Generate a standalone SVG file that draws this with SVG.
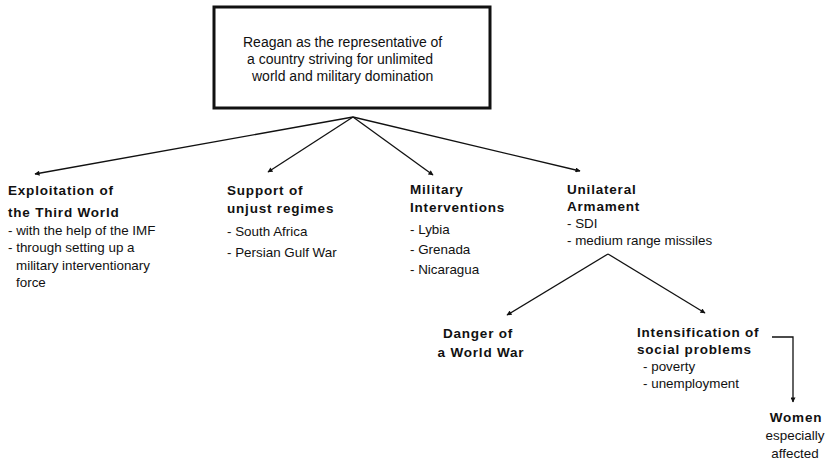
<svg xmlns="http://www.w3.org/2000/svg" width="827" height="466" viewBox="0 0 827 466">
<style>
text{font-family:"Liberation Sans",Arial,Helvetica,sans-serif;fill:#111}
.b{font-weight:bold;font-size:13.5px;letter-spacing:0.8px}
.r{font-size:13.4px}
.t{font-size:14px}
.c{text-anchor:middle}
.ln{stroke:#111;stroke-width:1.3;fill:none}
</style>
<defs>
<marker id="ah" viewBox="0 0 10 10" refX="9" refY="5" markerWidth="6" markerHeight="5" orient="auto" markerUnits="userSpaceOnUse">
<path d="M0,0 L10,5 L0,10 z" fill="#111"/>
</marker>
</defs>
<rect width="827" height="466" fill="#fff"/>
<g id="root">
<rect x="214" y="7" width="276" height="101" fill="#fff" stroke="#111" stroke-width="3"/>
<text class="t" x="243" y="47">Reagan as the representative of</text>
<text class="t" x="247" y="64">a country striving for unlimited</text>
<text class="t" x="252" y="81">world and military domination</text>
</g>
<g id="connectors">
<line class="ln" x1="353" y1="117" x2="35" y2="174" marker-end="url(#ah)"/>
<line class="ln" x1="353" y1="117" x2="268" y2="172" marker-end="url(#ah)"/>
<line class="ln" x1="353" y1="117" x2="433" y2="175" marker-end="url(#ah)"/>
<line class="ln" x1="353" y1="117" x2="580" y2="171" marker-end="url(#ah)"/>
<line class="ln" x1="608" y1="254" x2="507" y2="315" marker-end="url(#ah)"/>
<line class="ln" x1="608" y1="254" x2="705" y2="313" marker-end="url(#ah)"/>
<polyline class="ln" points="772,337 793,337 793,402" marker-end="url(#ah)"/>
</g>
<g id="exploitation">
<text class="b" x="8" y="195">Exploitation of</text>
<text class="b" x="8" y="217">the Third World</text>
<text class="r" x="8" y="235">- with the help of the IMF</text>
<text class="r" x="8" y="252">- through setting up a</text>
<text class="r" x="16" y="270">military interventionary</text>
<text class="r" x="16" y="287">force</text>
</g>
<g id="support">
<text class="b" x="227" y="195">Support of</text>
<text class="b" x="227" y="213">unjust regimes</text>
<text class="r" x="227" y="236">- South Africa</text>
<text class="r" x="227" y="257">- Persian Gulf War</text>
</g>
<g id="interventions">
<text class="b" x="410" y="194">Military</text>
<text class="b" x="410" y="212">Interventions</text>
<text class="r" x="410" y="234">- Lybia</text>
<text class="r" x="410" y="254">- Grenada</text>
<text class="r" x="410" y="274">- Nicaragua</text>
</g>
<g id="armament">
<text class="b" x="567" y="194">Unilateral</text>
<text class="b" x="567" y="211">Armament</text>
<text class="r" x="567" y="228">- SDI</text>
<text class="r" x="567" y="245">- medium range missiles</text>
</g>
<g id="danger">
<text class="b c" x="478" y="338">Danger of</text>
<text class="b c" x="481" y="357">a World War</text>
</g>
<g id="social">
<text class="b" x="637" y="337">Intensification of</text>
<text class="b" x="637" y="354">social problems</text>
<text class="r" x="643" y="371">- poverty</text>
<text class="r" x="643" y="388">- unemployment</text>
</g>
<g id="women">
<text class="b c" x="796" y="422">Women</text>
<text class="r c" x="795" y="440">especially</text>
<text class="r c" x="795" y="458">affected</text>
</g>
</svg>
